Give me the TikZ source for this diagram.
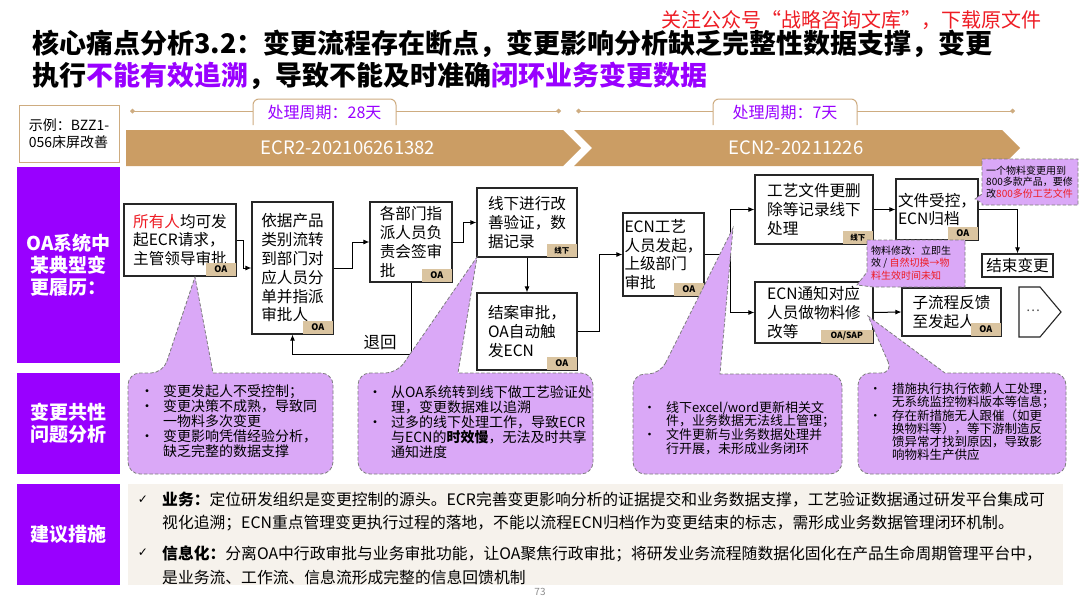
\documentclass[tikz,border=0pt]{standalone}
\usepackage{fontspec}
\setmainfont{Noto Sans CJK SC}
\newfontfamily\dejavu{DejaVu Sans}
\usetikzlibrary{arrows.meta}
\definecolor{vio}{RGB}{153,0,255}
\definecolor{tanbar}{RGB}{203,157,100}
\definecolor{tagc}{RGB}{218,196,160}
\definecolor{lav}{RGB}{218,168,247}
\definecolor{beige}{RGB}{246,242,236}
\definecolor{redc}{RGB}{238,28,36}
\definecolor{tabline}{RGB}{206,172,128}
\definecolor{cgray}{RGB}{125,125,125}
\newcommand{\fsz}[2]{\fontsize{#1}{#2}\selectfont}
\newcommand{\mybul}{\makebox[23pt][l]{•}}
\newcommand{\myind}{\hspace*{23pt}}
\begin{document}
\begin{tikzpicture}[x=1pt,y=-1pt,
 box/.style={draw=black!85,line width=1.1pt,fill=white,inner sep=1pt,align=left,font=\fsz{15.6}{18.8}},
 tag/.style={fill=tagc,inner sep=0pt,minimum height=13pt,minimum width=30pt,font=\bfseries\fsz{9}{9},anchor=south east,xshift=-0.6pt,yshift=0.6pt},
 arr/.style={line width=1pt,-{Latex[length=6pt,width=5pt]}},
 lbl/.style={fill=vio,text=white,font=\bfseries\fsz{19}{22},align=center,inner sep=0pt,minimum width=103pt},
 callout/.style={fill=lav,draw=cgray,dash pattern=on 3.5pt off 2pt,line width=0.8pt},
 ctext/.style={align=left,anchor=west,inner sep=0pt},
 tabbox/.style={draw=tabline,line width=1pt,fill=white,rounded corners=6pt},
 tl/.style={draw=tabline,line width=1pt,{Diamond[length=5pt,width=5pt]}-{Diamond[length=5pt,width=5pt]}},
]
\useasboundingbox (0,0) rectangle (1080,608);
\fill[white] (0,0) rectangle (1080,608);

% title
\node[anchor=west,inner sep=0pt,font=\bfseries\fsz{27}{30}] (title1) at (32,44) {核心痛点分析3.2：变更流程存在断点，变更影响分析缺乏完整性数据支撑，变更};
\node[anchor=west,inner sep=0pt,font=\bfseries\fsz{27}{30}] (title2) at (32,76) {执行\textcolor{vio}{不能有效追溯}，导致不能及时准确\textcolor{vio}{闭环业务变更数据}};
\node[anchor=east,inner sep=0pt,text=redc,font=\fsz{20}{21}] (note) at (1042,20) {关注公众号“战略咨询文库”，下载原文件};

% example + timeline
\node[draw=tabline,line width=1pt,minimum width=100pt,minimum height=57pt,align=left,font=\fsz{14}{17},inner sep=2pt] (ex) at (69,133.5) {示例：BZZ1-\\056床屏改善};
\coordinate (t1a) at (130,111); \coordinate (t1b) at (561,111);
\coordinate (t2a) at (576,111); \coordinate (t2b) at (1015,111);
\draw[tl] (t1a) -- (t1b);
\draw[tl] (t2a) -- (t2b);
\draw[tabbox] (253,125) -- (253,99) -- (396,99) -- (396,125);
\node[text=vio,font=\fsz{16}{18}] (p1) at (324.5,112.5) {处理周期：28天};
\draw[tabbox] (713,125) -- (713,99) -- (857,99) -- (857,125);
\node[text=vio,font=\fsz{16}{18}] (p2) at (785,112.5) {处理周期：7天};

\fill[tanbar] (126,130) -- (563,130) -- (581,148) -- (563,166) -- (126,166) -- cycle;
\fill[tanbar] (574,130) -- (1002,130) -- (1020,148) -- (1002,166) -- (574,166) -- (592,148) -- cycle;
\node[text=white,font=\fsz{18.5}{20}] (ecr) at (348,148) {ECR2-202106261382};
\node[text=white,font=\fsz{18.5}{20}] (ecn) at (796,148) {ECN2-20211226};

% left labels
\node[lbl,minimum height=196pt] (l1) at (68.5,265) {OA系统中\\某典型变\\更履历：};
\node[lbl,minimum height=101pt] (l2) at (68.5,423) {变更共性\\问题分析};
\node[lbl,minimum height=101pt] (l3) at (68.5,534.5) {建议措施};

% flow boxes
\node[box,minimum width=112pt,minimum height=72pt] (b1) at (180,240) {\textcolor{redc}{所有人}均可发\\起ECR请求，\\主管领导审批};
\node[box,minimum width=81pt,minimum height=132pt] (b2) at (292.5,268) {依据产品\\类别流转\\到部门对\\应人员分\\单并指派\\审批人};
\node[box,minimum width=82pt,minimum height=80pt] (b3) at (411,242) {各部门指\\派人员负\\责会签审\\批};
\node[box,minimum width=100pt,minimum height=69pt] (b4) at (527,222.5) {线下进行改\\善验证，数\\据记录};
\node[box,minimum width=100pt,minimum height=77pt] (b5) at (527,331.5) {结案审批，\\OA自动触\\发ECN};
\node[box,minimum width=81pt,minimum height=83pt] (b6) at (663.5,254.5) {ECN工艺\\人员发起，\\上级部门\\审批};
\node[box,minimum width=118pt,minimum height=69pt] (b7) at (814,209.5) {工艺文件更删\\除等记录线下\\处理};
\node[box,minimum width=118pt,minimum height=61pt] (b8) at (814,312.5) {ECN通知对应\\人员做物料修\\改等};
\node[box,minimum width=82pt,minimum height=61pt] (b9) at (937,209.5) {文件受控，\\ECN归档};
\node[box,minimum width=71pt,minimum height=23pt] (b10) at (1017.5,265.5) {结束变更};
\node[box,minimum width=99pt,minimum height=48pt] (b11) at (951.5,312) {子流程反馈\\至发起人};
\draw[line width=1.1pt,draw=black!85,fill=white] (1019,287) -- (1040,287) -- (1061,312) -- (1040,337) -- (1019,337) -- cycle;
\node[font=\fsz{13}{14},text=black!70] (b12) at (1033,311) {…};

% connectors
\draw[arr] (b1.east) -- ++(7,0) |- (b2.west);
\draw[arr] (b2.east) -- ++(19,0) |- (b3.west);
\draw[arr] (b3.east) -- ++(11,0) |- (b4.west);
\draw[arr] (b4.south) -- (b5.north);
\draw[arr] (b5.east) -- ++(22,0) |- (b6.west);
\draw[arr] (b6.east) -- ++(26,0) |- (b7.west);
\draw[arr] (b6.east) -- ++(26,0) |- (b8.west);
\draw[arr] (b7.east) -- (b9.west);
\draw[arr] (b9.east) -| (b10.north);
\draw[arr] (b8.east) -- (b11.west);
\draw[arr] (b3.south) -- ++(0,72) -| (b2.south);
\node[font=\fsz{16.5}{18}] (back) at (380,343) {退回};

% tags
\node[tag] (g1) at (b1.south east) {OA};
\node[tag] (g2) at (b2.south east) {OA};
\node[tag] (g3) at (b3.south east) {OA};
\node[tag,font=\bfseries\fsz{7.5}{8}] (g4) at (b4.south east) {线下};
\node[tag] (g5) at (b5.south east) {OA};
\node[tag] (g6) at (b6.south east) {OA};
\node[tag,font=\bfseries\fsz{7.5}{8}] (g7) at (b7.south east) {线下};
\node[tag,minimum width=52pt,font=\bfseries\fsz{8.5}{9}] (g8) at (b8.south east) {OA/SAP};
\node[tag] (g9) at (b9.south east) {OA};
\node[tag] (g11) at (b11.south east) {OA};

% callouts
\path[callout] (163,373) -- (195,277) -- (213,373) [rounded corners=12pt] -- (333,373) -- (333,474) -- (128,474) -- (128,373) -- cycle;
\path[callout] (397,373) -- (477,257) -- (458,373) [rounded corners=12pt] -- (593,373) -- (593,474) -- (358,474) -- (358,373) -- cycle;
\path[callout] (660,374) -- (733,228) -- (720,374) [rounded corners=12pt] -- (842,374) -- (842,474) -- (633,474) -- (633,374) -- cycle;
\path[callout] (893,373) -- (868,316) -- (945,373) [rounded corners=12pt] -- (1066,373) -- (1066,474) -- (858,474) -- (858,373) -- cycle;
\path[callout] (982,159) -- (1078,159) -- (1078,205) -- (982,205) -- (982,203) -- (975,199) -- (982,194) -- cycle;
\path[callout] (867,240) -- (965,240) -- (965,287) -- (873,287) -- (857,285) -- (867,272) -- cycle;

\node[ctext,font=\fsz{14}{15}] (c1t) at (140,421) {\mybul 变更发起人不受控制；\\\mybul 变更决策不成熟，导致同\\\myind 一物料多次变更\\\mybul 变更影响凭借经验分析，\\\myind 缺乏完整的数据支撑};
\node[ctext,font=\fsz{14}{15}] (c2t) at (368,422) {\mybul 从OA系统转到线下做工艺验证处\\\myind 理，变更数据难以追溯\\\mybul 过多的线下处理工作，导致ECR\\\myind 与ECN的\textbf{时效慢}，无法及时共享\\\myind 通知进度};
\node[ctext,font=\fsz{13}{13.8}] (c3t) at (643,428) {\mybul 线下excel/word更新相关文\\\myind 件，业务数据无法线上管理；\\\mybul 文件更新与业务数据处理并\\\myind 行开展，未形成业务闭环};
\node[ctext,font=\fsz{12.5}{13.2}] (c4t) at (869,422) {\mybul 措施执行执行依赖人工处理，\\\myind 无系统监控物料版本等信息；\\\mybul 存在新措施无人跟催（如更\\\myind 换物料等），等下游制造反\\\myind 馈异常才找到原因，导致影\\\myind 响物料生产供应};
\node[ctext,font=\fsz{10}{11.7}] (sc1t) at (986,182) {一个物料变更用到\\800多款产品，要修\\改\textcolor{redc}{800多份工艺文件}};
\node[ctext,font=\fsz{10}{12.5}] (sc2t) at (871,263) {物料修改：立即生\\效 / \textcolor{redc}{自然切换→物}\\\textcolor{redc}{料生效时间未知}};

% bottom panel
\node[fill=beige,minimum width=935pt,minimum height=101pt,inner sep=0pt] (panel) at (595.5,534.5) {};
\node[font=\dejavu\fsz{12}{14}] (ck1) at (143,500) {✓};
\node[ctext,font=\fsz{15.8}{23.5}] (s1) at (162,511.5) {\textbf{业务：}定位研发组织是变更控制的源头。ECR完善变更影响分析的证据提交和业务数据支撑，工艺验证数据通过研发平台集成可\\视化追溯；ECN重点管理变更执行过程的落地，不能以流程ECN归档作为变更结束的标志，需形成业务数据管理闭环机制。};
\node[font=\dejavu\fsz{12}{14}] (ck2) at (143,553) {✓};
\node[ctext,font=\fsz{15.8}{24}] (s2) at (162,565) {\textbf{信息化：}分离OA中行政审批与业务审批功能，让OA聚焦行政审批；将研发业务流程随数据化固化在产品生命周期管理平台中，\\是业务流、工作流、信息流形成完整的信息回馈机制};
\node[text=black!45,font=\fsz{10}{11}] (pg) at (540,592) {73};
\end{tikzpicture}
\end{document}
